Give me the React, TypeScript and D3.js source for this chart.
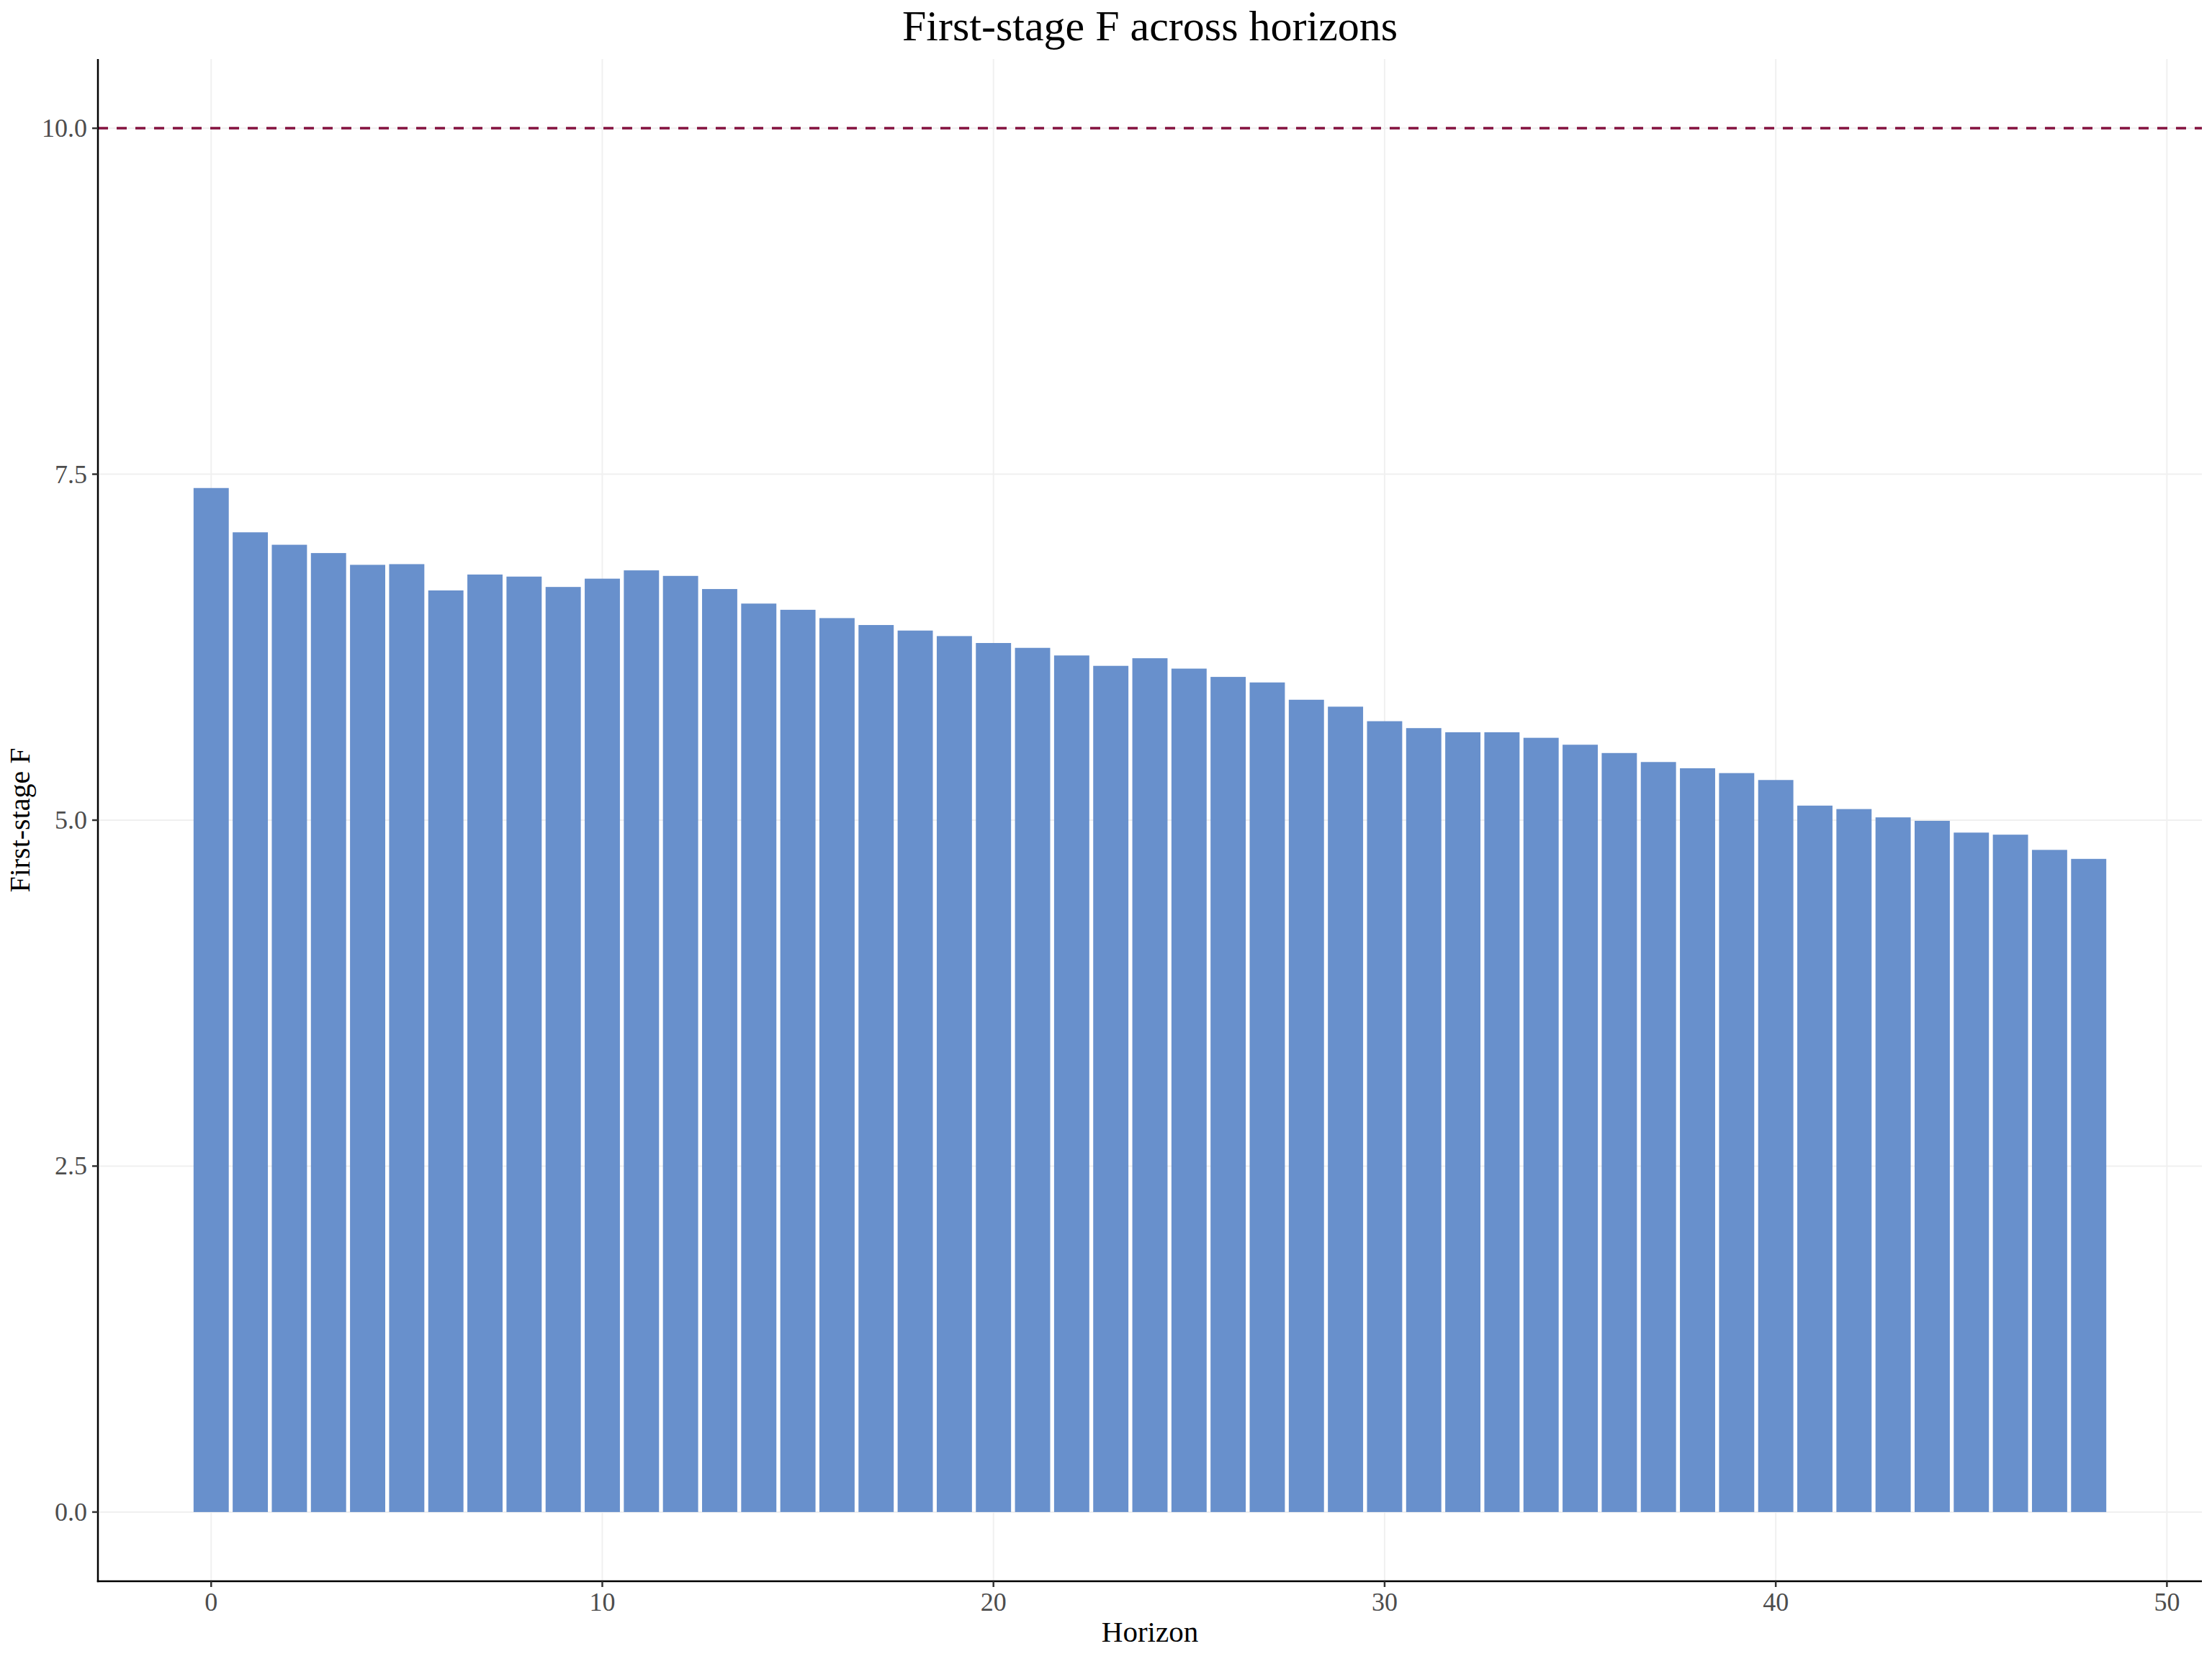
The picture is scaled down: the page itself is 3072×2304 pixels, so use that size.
import React from "react";
import * as d3 from "d3";

// horizons shown on the x axis and the first-stage F statistic per horizon
const horizons = [
  0, 1, 2, 3, 4, 5, 6, 7, 8, 9, 10, 11, 12, 13, 14, 15, 16, 17, 18, 19, 20, 21, 22, 23, 24,
  25, 26, 27, 28, 29, 30, 31, 32, 33, 34, 35, 36, 37, 38, 39, 40, 41, 42, 43, 44, 45, 46, 47, 48,
];
const fStats = [
  7.40, 7.08, 6.99, 6.93, 6.845, 6.85, 6.66, 6.775, 6.76, 6.685, 6.745, 6.805, 6.765, 6.67,
  6.565, 6.52, 6.46, 6.41, 6.37, 6.33, 6.28, 6.245, 6.19, 6.115, 6.17, 6.095, 6.035, 5.995,
  5.87, 5.82, 5.715, 5.665, 5.635, 5.635, 5.595, 5.545, 5.485, 5.42, 5.375, 5.34, 5.29, 5.105,
  5.08, 5.02, 4.995, 4.91, 4.895, 4.785, 4.72,
];
const xTicks = [0, 10, 20, 30, 40, 50];
const yTicks = [0, 2.5, 5, 7.5, 10];
const threshold = 10;

const W = 3072;
const H = 2304;
const margin = { left: 136, right: 14, top: 82, bottom: 108 };
const font = "'Liberation Serif', 'Times New Roman', serif";

const App: React.FC = () => {
  const barW = 0.9;
  const xMin = d3.min(horizons)! - barW / 2;
  const xMax = d3.max(horizons)! + barW / 2;
  const xPad = (xMax - xMin) * 0.05;
  const x = d3
    .scaleLinear()
    .domain([xMin - xPad, xMax + xPad])
    .range([margin.left, W - margin.right]);

  const yHi = Math.max(threshold, d3.max(fStats)!);
  const yPad = yHi * 0.05;
  const y = d3
    .scaleLinear()
    .domain([0 - yPad, yHi + yPad])
    .range([H - margin.bottom, margin.top]);

  const x0 = x.range()[0];
  const x1 = x.range()[1];
  const y0 = y.range()[0];
  const y1 = y.range()[1];
  const fmt = d3.format(".1f");

  return (
    <div style={{ position: "absolute", left: 0, top: 0 }}>
      <svg width={W} height={H} style={{ display: "block", background: "#fff" }}>
        {/* grid */}
        <g stroke="#F0F0F0" strokeWidth={2}>
          {xTicks.map((t) => (
            <line key={"gx" + t} x1={x(t)} x2={x(t)} y1={y1} y2={y0} />
          ))}
          {yTicks.map((t) => (
            <line key={"gy" + t} x1={x0} x2={x1} y1={y(t)} y2={y(t)} />
          ))}
        </g>

        {/* bars */}
        <g fill="#6890CC">
          {horizons.map((h, i) => (
            <rect
              key={h}
              x={x(h - barW / 2)}
              width={x(h + barW / 2) - x(h - barW / 2)}
              y={y(fStats[i])}
              height={y(0) - y(fStats[i])}
            />
          ))}
        </g>

        {/* F = 10 rule of thumb */}
        <line
          x1={x0}
          x2={x1}
          y1={y(threshold)}
          y2={y(threshold)}
          stroke="#84123F"
          strokeWidth={3.5}
          strokeDasharray="14 12"
        />

        {/* axes */}
        <g stroke="#000" strokeWidth={2.5}>
          <line x1={x0} x2={x0} y1={y1} y2={y0 + 1.25} />
          <line x1={x0 - 1.25} x2={x1} y1={y0} y2={y0} />
        </g>
        <g stroke="#333" strokeWidth={2.5}>
          {xTicks.map((t) => (
            <line key={"tx" + t} x1={x(t)} x2={x(t)} y1={y0} y2={y0 + 8} />
          ))}
          {yTicks.map((t) => (
            <line key={"ty" + t} x1={x0 - 8} x2={x0} y1={y(t)} y2={y(t)} />
          ))}
        </g>

        <g fontFamily={font} fontSize={36} fill="#4D4D4D">
          {xTicks.map((t) => (
            <text key={"lx" + t} x={x(t)} y={2237} textAnchor="middle">
              {t}
            </text>
          ))}
          {yTicks.map((t) => (
            <text key={"ly" + t} x={121} y={y(t)} textAnchor="end" dominantBaseline="central">
              {fmt(t)}
            </text>
          ))}
        </g>

        {/* titles */}
        <text
          x={(x0 + x1) / 2}
          y={56}
          textAnchor="middle"
          fontFamily={font}
          fontSize={60}
          fill="#000"
        >
          First-stage F across horizons
        </text>
        <text
          x={(x0 + x1) / 2}
          y={2280}
          textAnchor="middle"
          fontFamily={font}
          fontSize={41}
          fill="#000"
        >
          Horizon
        </text>
        <text
          transform={`translate(41, ${(y0 + y1) / 2}) rotate(-90)`}
          textAnchor="middle"
          fontFamily={font}
          fontSize={40}
          fill="#000"
        >
          First-stage F
        </text>
      </svg>
    </div>
  );
};

export default App;
